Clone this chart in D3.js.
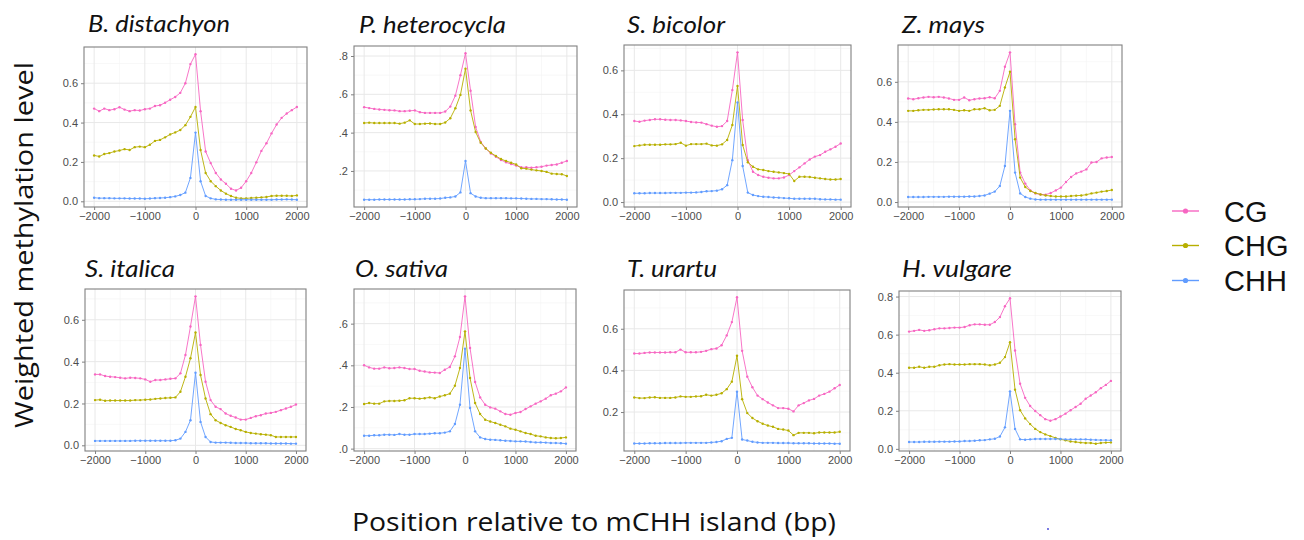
<!DOCTYPE html>
<html><head><meta charset="utf-8">
<script src="https://cdn.jsdelivr.net/npm/d3@7"></script>
<style>body{margin:0;background:#fff}svg{display:block}</style>
</head><body>
<svg id="chart" width="1304" height="540"></svg>
<script>
// ---------------- data ----------------
const positions = [-2000,-1900,-1800,-1700,-1600,-1500,-1400,-1300,-1200,-1100,
  -1000,-900,-800,-700,-600,-500,-400,-300,-200,-100,
  0,
  100,200,300,400,500,600,700,800,900,1000,
  1100,1200,1300,1400,1500,1600,1700,1800,1900,2000];
const xTicks = [-2000,-1000,0,1000,2000];
const contexts = ["CG","CHG","CHH"];
const species = ["B. distachyon","P. heterocycla","S. bicolor","Z. mays",
                 "S. italica","O. sativa","T. urartu","H. vulgare"];

const bdisCG = [0.471,0.458,0.471,0.463,0.468,0.478,0.466,0.458,0.463,0.461,
  0.468,0.471,0.484,0.488,0.501,0.516,0.530,0.551,0.600,0.697,
  0.747,
  0.458,0.253,0.194,0.144,0.111,0.089,0.064,0.055,0.069,0.102,
  0.144,0.198,0.256,0.295,0.345,0.390,0.424,0.446,0.463,0.479];
const bdisCHG = [0.233,0.228,0.240,0.245,0.253,0.258,0.265,0.261,0.275,0.278,
  0.275,0.287,0.307,0.312,0.325,0.340,0.350,0.362,0.387,0.429,
  0.479,
  0.261,0.144,0.102,0.077,0.055,0.039,0.027,0.018,0.015,0.015,
  0.017,0.018,0.020,0.022,0.027,0.028,0.028,0.028,0.027,0.030];
const bdisCHH = [0.018,0.016,0.016,0.016,0.015,0.015,0.015,0.014,0.014,0.014,
  0.013,0.014,0.016,0.017,0.018,0.021,0.025,0.032,0.044,0.119,
  0.349,
  0.102,0.027,0.015,0.010,0.009,0.008,0.008,0.008,0.008,0.008,
  0.008,0.008,0.008,0.008,0.008,0.009,0.009,0.010,0.009,0.008];

const phetCG = [0.533,0.528,0.524,0.521,0.519,0.517,0.516,0.512,0.512,0.514,
  0.516,0.507,0.503,0.503,0.503,0.503,0.510,0.536,0.593,0.700,
  0.814,
  0.619,0.429,0.352,0.317,0.291,0.274,0.257,0.245,0.236,0.228,
  0.219,0.219,0.217,0.219,0.222,0.228,0.231,0.234,0.243,0.252];
const phetCHG = [0.450,0.452,0.450,0.450,0.450,0.450,0.450,0.447,0.452,0.464,
  0.445,0.445,0.447,0.448,0.445,0.445,0.453,0.475,0.527,0.597,
  0.734,
  0.516,0.403,0.347,0.317,0.295,0.278,0.262,0.252,0.243,0.234,
  0.214,0.212,0.207,0.203,0.200,0.195,0.186,0.184,0.183,0.174];
const phetCHH = [0.050,0.050,0.050,0.051,0.051,0.051,0.051,0.051,0.051,0.052,
  0.052,0.053,0.055,0.055,0.055,0.056,0.060,0.062,0.067,0.088,
  0.252,
  0.084,0.067,0.060,0.058,0.058,0.058,0.058,0.058,0.057,0.057,
  0.056,0.055,0.054,0.054,0.053,0.053,0.052,0.051,0.051,0.050];

const sbicCG = [0.369,0.366,0.371,0.374,0.377,0.377,0.375,0.374,0.374,0.372,
  0.369,0.365,0.363,0.362,0.355,0.348,0.343,0.346,0.369,0.510,
  0.682,
  0.374,0.191,0.138,0.123,0.115,0.111,0.108,0.108,0.112,0.123,
  0.141,0.158,0.176,0.194,0.207,0.214,0.229,0.240,0.252,0.267];
const sbicCHG = [0.255,0.258,0.261,0.261,0.261,0.261,0.263,0.263,0.264,0.270,
  0.257,0.264,0.264,0.264,0.266,0.258,0.257,0.263,0.283,0.351,
  0.529,
  0.260,0.181,0.161,0.149,0.146,0.141,0.138,0.135,0.132,0.128,
  0.096,0.115,0.115,0.114,0.111,0.108,0.105,0.103,0.103,0.105];
const sbicCHH = [0.040,0.040,0.040,0.041,0.041,0.041,0.041,0.042,0.042,0.042,
  0.043,0.043,0.044,0.046,0.049,0.050,0.052,0.058,0.077,0.191,
  0.454,
  0.164,0.043,0.032,0.027,0.024,0.023,0.021,0.020,0.018,0.017,
  0.015,0.015,0.015,0.015,0.015,0.013,0.012,0.012,0.011,0.011];

const zmayCG = [0.517,0.513,0.518,0.522,0.525,0.523,0.525,0.522,0.517,0.510,
  0.510,0.522,0.508,0.513,0.517,0.518,0.523,0.518,0.555,0.675,
  0.747,
  0.388,0.147,0.092,0.058,0.043,0.038,0.037,0.045,0.058,0.072,
  0.100,0.125,0.143,0.152,0.163,0.197,0.200,0.218,0.222,0.225];
const zmayCHG = [0.455,0.455,0.458,0.460,0.460,0.462,0.463,0.463,0.463,0.460,
  0.455,0.458,0.455,0.463,0.463,0.468,0.458,0.460,0.480,0.572,
  0.650,
  0.313,0.122,0.075,0.055,0.045,0.038,0.033,0.030,0.028,0.028,
  0.028,0.030,0.032,0.033,0.037,0.043,0.047,0.052,0.055,0.060];
const zmayCHH = [0.025,0.025,0.025,0.025,0.026,0.026,0.026,0.026,0.027,0.027,
  0.027,0.027,0.028,0.028,0.030,0.033,0.042,0.052,0.080,0.180,
  0.455,
  0.147,0.043,0.025,0.017,0.013,0.012,0.012,0.012,0.012,0.012,
  0.012,0.012,0.012,0.012,0.012,0.012,0.012,0.012,0.012,0.012];

const sitaCG = [0.339,0.339,0.331,0.328,0.326,0.323,0.320,0.323,0.322,0.320,
  0.315,0.304,0.312,0.312,0.315,0.318,0.320,0.344,0.432,0.568,
  0.712,
  0.480,0.304,0.216,0.184,0.173,0.152,0.141,0.133,0.123,0.123,
  0.131,0.139,0.144,0.152,0.155,0.160,0.168,0.176,0.184,0.195];
const sitaCHG = [0.216,0.218,0.213,0.214,0.214,0.214,0.214,0.214,0.216,0.216,
  0.218,0.219,0.222,0.224,0.226,0.227,0.229,0.256,0.328,0.416,
  0.539,
  0.336,0.224,0.149,0.120,0.107,0.096,0.088,0.078,0.072,0.064,
  0.059,0.056,0.053,0.051,0.048,0.040,0.040,0.040,0.040,0.040];
const sitaCHH = [0.021,0.021,0.021,0.021,0.021,0.021,0.021,0.021,0.022,0.022,
  0.022,0.022,0.022,0.022,0.022,0.022,0.024,0.032,0.064,0.120,
  0.347,
  0.112,0.040,0.016,0.013,0.013,0.013,0.012,0.011,0.011,0.011,
  0.010,0.010,0.010,0.010,0.009,0.009,0.009,0.009,0.008,0.008];

const osatCG = [0.400,0.390,0.384,0.384,0.390,0.386,0.387,0.390,0.387,0.382,
  0.382,0.374,0.370,0.366,0.365,0.363,0.379,0.392,0.443,0.536,
  0.731,
  0.483,0.320,0.246,0.211,0.198,0.192,0.179,0.166,0.163,0.171,
  0.176,0.190,0.203,0.216,0.227,0.240,0.256,0.264,0.275,0.294];
const osatCHG = [0.214,0.219,0.216,0.216,0.227,0.229,0.229,0.230,0.232,0.242,
  0.242,0.240,0.242,0.246,0.242,0.250,0.256,0.264,0.302,0.387,
  0.563,
  0.339,0.219,0.166,0.139,0.130,0.123,0.115,0.107,0.096,0.091,
  0.083,0.075,0.070,0.062,0.059,0.054,0.051,0.050,0.051,0.054];
const osatCHH = [0.062,0.062,0.064,0.064,0.067,0.067,0.066,0.070,0.067,0.067,
  0.070,0.070,0.070,0.072,0.074,0.074,0.077,0.083,0.118,0.211,
  0.480,
  0.195,0.083,0.054,0.046,0.043,0.042,0.040,0.038,0.037,0.035,
  0.035,0.034,0.032,0.030,0.030,0.029,0.027,0.027,0.026,0.024];

const turaCG = [0.481,0.481,0.484,0.486,0.486,0.486,0.486,0.487,0.487,0.500,
  0.487,0.487,0.487,0.489,0.494,0.502,0.505,0.521,0.568,0.632,
  0.751,
  0.494,0.370,0.319,0.279,0.262,0.246,0.232,0.219,0.219,0.216,
  0.203,0.232,0.243,0.256,0.263,0.279,0.287,0.298,0.314,0.330];
const turaCHG = [0.270,0.267,0.267,0.270,0.271,0.268,0.268,0.268,0.270,0.275,
  0.273,0.273,0.275,0.276,0.283,0.279,0.283,0.290,0.310,0.346,
  0.470,
  0.262,0.195,0.171,0.156,0.144,0.135,0.129,0.119,0.116,0.111,
  0.089,0.100,0.100,0.100,0.098,0.102,0.102,0.102,0.102,0.105];
const turaCHH = [0.049,0.049,0.049,0.050,0.050,0.050,0.051,0.051,0.051,0.051,
  0.052,0.052,0.052,0.052,0.052,0.054,0.056,0.060,0.071,0.076,
  0.298,
  0.068,0.063,0.057,0.054,0.052,0.052,0.052,0.051,0.051,0.051,
  0.050,0.050,0.050,0.050,0.049,0.049,0.049,0.049,0.048,0.048];

const hvulCG = [0.616,0.620,0.625,0.620,0.623,0.628,0.633,0.633,0.635,0.637,
  0.637,0.640,0.649,0.654,0.654,0.652,0.652,0.666,0.692,0.749,
  0.791,
  0.517,0.342,0.268,0.225,0.199,0.177,0.156,0.148,0.156,0.170,
  0.185,0.203,0.220,0.237,0.263,0.280,0.297,0.319,0.336,0.357];
const hvulCHG = [0.426,0.426,0.431,0.426,0.431,0.431,0.439,0.443,0.445,0.443,
  0.443,0.443,0.445,0.445,0.445,0.443,0.439,0.443,0.452,0.482,
  0.560,
  0.311,0.203,0.160,0.130,0.105,0.088,0.076,0.067,0.058,0.050,
  0.045,0.039,0.036,0.033,0.031,0.031,0.027,0.031,0.033,0.034];
const hvulCHH = [0.036,0.036,0.036,0.037,0.037,0.037,0.038,0.038,0.038,0.039,
  0.039,0.041,0.041,0.043,0.045,0.046,0.050,0.053,0.065,0.113,
  0.302,
  0.105,0.050,0.048,0.050,0.052,0.052,0.052,0.052,0.052,0.052,
  0.050,0.050,0.050,0.050,0.050,0.048,0.047,0.046,0.046,0.045];

const panelSeries = [
  [bdisCG, bdisCHG, bdisCHH], [phetCG, phetCHG, phetCHH],
  [sbicCG, sbicCHG, sbicCHH], [zmayCG, zmayCHG, zmayCHH],
  [sitaCG, sitaCHG, sitaCHH], [osatCG, osatCHG, osatCHH],
  [turaCG, turaCHG, turaCHH], [hvulCG, hvulCHG, hvulCHH]
];

// ---------------- layout & style ----------------
const colors = {CG: "#F766C2", CHG: "#B7AF00", CHH: "#619CFF"};
const layout = [
  {x0: 84,  x1: 307,  y0: 47,  y1: 207, tx: 88,  ty: 32,  tw: 142, trim: false},
  {x0: 354, x1: 577,  y0: 46,  y1: 207, tx: 359, ty: 33,  tw: 147, trim: true},
  {x0: 624, x1: 851,  y0: 45,  y1: 207, tx: 627, ty: 33,  tw: 98,  trim: false},
  {x0: 898, x1: 1122, y0: 45,  y1: 207, tx: 902, ty: 33,  tw: 83,  trim: false},
  {x0: 85,  x1: 306,  y0: 289, y1: 451, tx: 85,  ty: 277, tw: 90,  trim: false},
  {x0: 354, x1: 576,  y0: 289, y1: 451, tx: 355, ty: 277, tw: 93,  trim: true},
  {x0: 624, x1: 850,  y0: 290, y1: 451, tx: 627, ty: 277, tw: 90,  trim: false},
  {x0: 899, x1: 1121, y0: 291, y1: 451, tx: 902, ty: 277, tw: 110, trim: false}
];

const svg = d3.select("#chart");
svg.append("rect").attr("width", 1304).attr("height", 540).attr("fill", "#fff");

function expand(ext) {
  const pad = (ext[1] - ext[0]) * 0.05;
  return [ext[0] - pad, ext[1] + pad];
}

species.forEach((name, i) => {
  const L = layout[i];
  const series = panelSeries[i];
  const g = svg.append("g").attr("class", "panel");

  const x = d3.scaleLinear().domain(expand(d3.extent(positions))).range([L.x0, L.x1]);
  const yExt = d3.extent(series.flat());
  const y = d3.scaleLinear().domain(expand(yExt)).range([L.y1, L.y0]);
  const yDom = y.domain();

  const yMajor = y.ticks(5);
  const yStep = yMajor[1] - yMajor[0];
  const yMinor = [yMajor[0] - yStep / 2].concat(yMajor.map(v => v + yStep / 2))
    .filter(v => v > yDom[0] && v < yDom[1]);
  const xStep = xTicks[1] - xTicks[0];
  const xDom = x.domain();
  const xMinor = [xTicks[0] - xStep / 2].concat(xTicks.map(v => v + xStep / 2))
    .filter(v => v > xDom[0] && v < xDom[1]);

  // panel background
  g.append("rect").attr("x", L.x0).attr("y", L.y0)
    .attr("width", L.x1 - L.x0).attr("height", L.y1 - L.y0).attr("fill", "#fff");

  // minor grid
  g.selectAll(null).data(yMinor).enter().append("line")
    .attr("x1", L.x0).attr("x2", L.x1).attr("y1", d => y(d)).attr("y2", d => y(d))
    .attr("stroke", "#f4f4f4").attr("stroke-width", 0.6);
  g.selectAll(null).data(xMinor).enter().append("line")
    .attr("y1", L.y0).attr("y2", L.y1).attr("x1", d => x(d)).attr("x2", d => x(d))
    .attr("stroke", "#f4f4f4").attr("stroke-width", 0.6);
  // major grid
  g.selectAll(null).data(yMajor).enter().append("line")
    .attr("x1", L.x0).attr("x2", L.x1).attr("y1", d => y(d)).attr("y2", d => y(d))
    .attr("stroke", "#e8e8e8").attr("stroke-width", 1);
  g.selectAll(null).data(xTicks).enter().append("line")
    .attr("y1", L.y0).attr("y2", L.y1).attr("x1", d => x(d)).attr("x2", d => x(d))
    .attr("stroke", "#e8e8e8").attr("stroke-width", 1);

  // series
  const line = d3.line().x((d, k) => x(positions[k])).y(d => y(d));
  contexts.forEach((c, j) => {
    const vals = series[j];
    g.append("path").datum(vals).attr("d", line)
      .attr("fill", "none").attr("stroke", colors[c]).attr("stroke-width", 0.9);
    g.selectAll(null).data(vals).enter().append("circle")
      .attr("cx", (d, k) => x(positions[k])).attr("cy", d => y(d))
      .attr("r", 1.2).attr("fill", colors[c]);
  });

  // border
  g.append("rect").attr("x", L.x0).attr("y", L.y0)
    .attr("width", L.x1 - L.x0).attr("height", L.y1 - L.y0)
    .attr("fill", "none").attr("stroke", "#808080").attr("stroke-width", 1.1);

  // axes
  const fmt = d3.format(".1f");
  const yFmt = L.trim ? (v => fmt(v).replace(/^0/, "")) : fmt;
  const yAxis = d3.axisLeft(y).tickValues(yMajor).tickSize(3).tickPadding(3).tickFormat(yFmt);
  const xAxis = d3.axisBottom(x).tickValues(xTicks).tickSize(3).tickPadding(2).tickFormat(d3.format("d"));
  const ya = g.append("g").attr("transform", `translate(${L.x0},0)`).call(yAxis);
  const xa = g.append("g").attr("transform", `translate(0,${L.y1})`).call(xAxis);
  [ya, xa].forEach(a => {
    a.select(".domain").remove();
    a.selectAll(".tick line").attr("stroke", "#808080");
    a.selectAll(".tick text").attr("fill", "#4d4d4d")
      .style("font-family", "'Liberation Sans', Arial, sans-serif").style("font-size", "11px");
  });

  // title
  svg.append("text").attr("x", L.tx).attr("y", L.ty).text(name)
    .attr("textLength", L.tw).attr("lengthAdjust", "spacingAndGlyphs")
    .style("font-family", "Lato, 'Open Sans', sans-serif").style("font-style", "italic")
    .style("font-size", "23px").attr("fill", "#111");
});

// axis titles
svg.append("text").attr("transform", "translate(33,245) rotate(-90)")
  .attr("text-anchor", "middle").text("Weighted methylation level")
  .attr("textLength", 366).attr("lengthAdjust", "spacingAndGlyphs")
  .style("font-family", "'Open Sans', sans-serif").style("font-size", "25px").attr("fill", "#111");
svg.append("text").attr("x", 594).attr("y", 531)
  .attr("text-anchor", "middle").text("Position relative to mCHH island (bp)")
  .attr("textLength", 484).attr("lengthAdjust", "spacingAndGlyphs")
  .style("font-family", "'Open Sans', sans-serif").style("font-size", "25px").attr("fill", "#111");

// legend
const legY = [211, 245.5, 280.5];
const lg = svg.append("g");
contexts.forEach((c, j) => {
  lg.append("line").attr("x1", 1172).attr("x2", 1199).attr("y1", legY[j]).attr("y2", legY[j])
    .attr("stroke", colors[c]).attr("stroke-width", 1.4);
  lg.append("circle").attr("cx", 1185.5).attr("cy", legY[j]).attr("r", 2.6).attr("fill", colors[c]);
  lg.append("text").attr("x", 1224).attr("y", legY[j] + 10.5).text(c)
    .style("font-family", "'Liberation Sans', Arial, sans-serif").style("font-size", "29px").attr("fill", "#111");
});

// small stray mark present in the original figure
svg.append("circle").attr("cx", 1048).attr("cy", 529).attr("r", 0.9).attr("fill", "#3b3bd6");
</script>
</body></html>
